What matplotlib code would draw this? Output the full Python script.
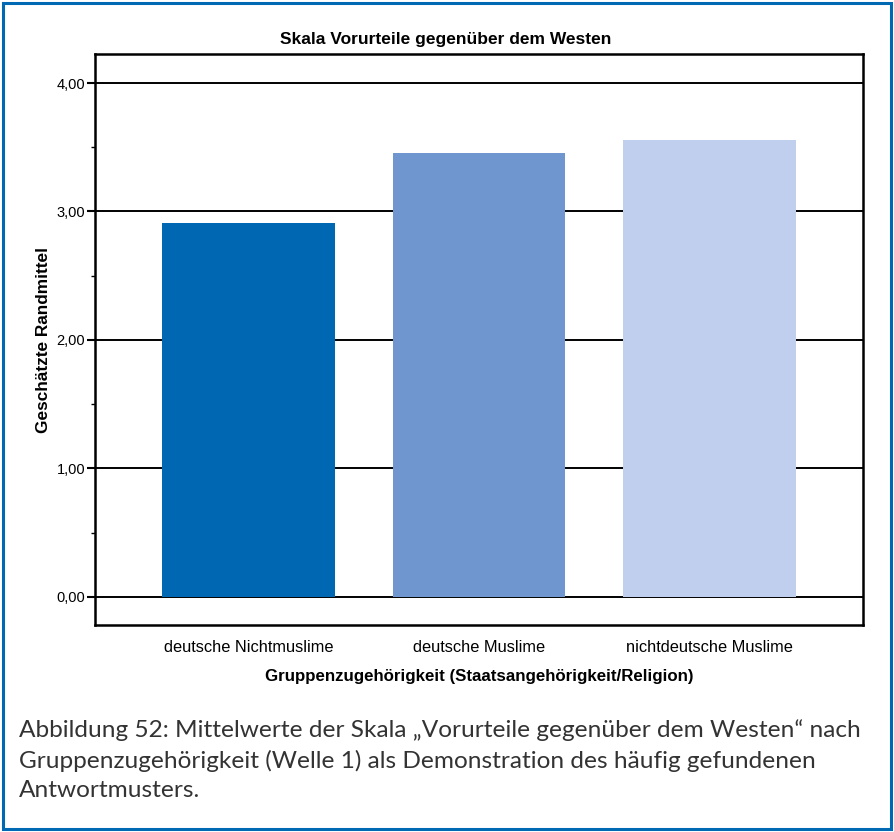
import numpy as np
import matplotlib.pyplot as plt
from matplotlib.patches import Rectangle
from matplotlib.ticker import MultipleLocator, FuncFormatter

groups = ["deutsche Nichtmuslime", "deutsche Muslime", "nichtdeutsche Muslime"]
means = [2.91, 3.455, 3.555]
colors = ["#0068b3", "#6f96cf", "#c1cfee"]

title = "Skala Vorurteile gegenüber dem Westen"
xlabel = "Gruppenzugehörigkeit (Staatsangehörigkeit/Religion)"
ylabel = "Geschätzte Randmittel"
caption = ("Abbildung 52: Mittelwerte der Skala \u201eVorurteile gegenüber dem Westen\u201c nach\n"
           "Gruppenzugehörigkeit (Welle 1) als Demonstration des häufig gefundenen\n"
           "Antwortmusters.")

W, H = 894, 832
fig = plt.figure(figsize=(W / 100, H / 100), dpi=100)
plt.rcParams["font.family"] = ["Liberation Sans", "DejaVu Sans"]

# outer frame
fig.patches.append(Rectangle((3 / W, 3 / H), 888 / W, 826 / H, transform=fig.transFigure,
                             fill=False, edgecolor="#0069b4", linewidth=2.2))

ax = fig.add_axes([95 / W, 1 - 625 / H, 768 / W, 571 / H])
x = np.arange(len(groups))
ax.bar(x, means, width=0.75, color=colors, zorder=3)
ax.set_xlim(-0.666, 2.666)
ax.set_ylim(-0.22, 4.226)

ax.yaxis.set_major_locator(MultipleLocator(1))
ax.yaxis.set_minor_locator(MultipleLocator(0.5))
ax.yaxis.set_major_formatter(FuncFormatter(lambda v, p: f"{v:.2f}".replace(".", ",")))
ax.grid(axis="y", which="major", color="black", linewidth=1.4, zorder=1)
ax.set_axisbelow(True)
ax.tick_params(axis="y", which="major", length=6, width=1.5, labelsize=10.5, pad=1)
ax.tick_params(axis="y", which="minor", length=3, width=1)
ax.set_xticks(x)
ax.set_xticklabels(groups, fontsize=11.8)
ax.tick_params(axis="x", length=0, pad=11)
for s in ax.spines.values():
    s.set_linewidth(1.8)

ax.set_title(title, fontsize=12.5, fontweight="bold", pad=7, x=0.456)
ax.set_xlabel(xlabel, fontsize=12.2, fontweight="bold", labelpad=10)
ax.set_ylabel(ylabel, fontsize=12.4, fontweight="bold", labelpad=4)

fig.text(19 / W, 1 - 719 / H, caption, fontsize=17.6, family=["Lato", "DejaVu Sans"],
         color="#333333", va="top", ha="left", linespacing=1.5)

fig.savefig("out.png", dpi=100)
